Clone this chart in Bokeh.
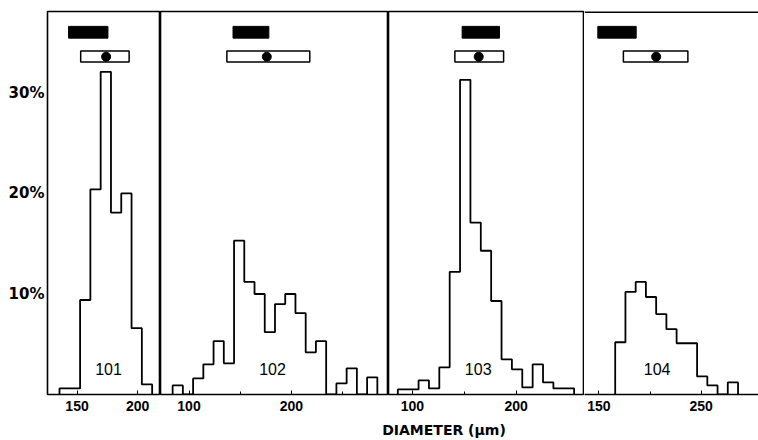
from bokeh.plotting import figure
from bokeh.models import Range1d, FixedTicker, PrintfTickFormatter, Label, Span
from bokeh.layouts import row, column
from bokeh.embed import file_html
from bokeh.resources import INLINE
from bokeh.core.properties import value

# ---------------- data ----------------
y_ticks = [10, 20, 30]

panel_names = ["101", "102", "103", "104"]

p101_edges = [135.5, 144, 152.5, 161, 169.5, 178, 186.5, 195, 203.5, 212]
p101_pct = [0.6, 0.6, 9.4, 20.4, 32.1, 18.1, 20.0, 6.6, 1.0]

p102_edges = [84, 94, 104, 114, 124, 134, 144, 154, 164, 174, 184, 194, 204,
              214, 224, 234, 244, 254, 264, 274, 284]
p102_pct = [0.9, 0, 1.6, 3.0, 5.3, 3.1, 15.3, 11.2, 10.0, 6.2, 9.0, 10.0, 8.1,
            4.2, 5.3, 0, 1.1, 2.6, 0, 1.7]

p103_edges = [86, 96, 106, 116, 126, 136, 146, 156, 166, 176, 186, 196, 206,
              216, 226, 236, 246, 256]
p103_pct = [0.5, 0.5, 1.4, 0.6, 2.7, 12.2, 31.3, 17.1, 14.3, 9.3, 3.5, 2.5, 0.7,
            3.0, 1.2, 0.6, 0.6]

p104_edges = [166, 176, 186, 196, 206, 216, 226, 236, 246, 256, 266, 276, 286]
p104_pct = [5.2, 10.2, 11.2, 9.7, 8.0, 6.5, 5.1, 5.1, 1.8, 0.9, 0, 1.2]

# range bars at the top of each panel (diameter units)
solid_left = [143, 143, 148, 149]
solid_right = [175.5, 178, 184, 186.5]
open_left = [153, 137, 141, 174]
open_right = [193, 218, 188, 237]
dot_x = [174, 176, 164, 206]

x_major = [[150, 200], [100, 200], [100, 200], [150, 250]]
x_minor = [[], [150, 250], [150], [200]]

# ---------------- layout / style ----------------
Y_END = 38.1
ranges = [(125.6, 218.9), (72.15, 294.9), (77.0, 266.0), (136.0, 306.0)]
widths = [160, 228, 196, 174]
left_borders = [47, 0, 0, 0]
name_x = [176, 181.6, 163.5, 207]
NAME_Y = 2.5
SOLID_BOT, SOLID_TOP = 35.45, 36.62
OPEN_BOT, OPEN_TOP = 33.07, 34.16
DOT_Y = 33.6
TOP_B, FRAME_H, BOT_B = 11, 383, 24
FIG_H = TOP_B + FRAME_H + BOT_B
LAB_H = 20

def step_path(edges, vals):
    xs = [edges[0]]
    ys = [0]
    for i, v in enumerate(vals):
        xs += [edges[i], edges[i + 1]]
        ys += [v, v]
    xs.append(edges[-1])
    ys.append(0)
    return xs, ys

hist = [(p101_edges, p101_pct), (p102_edges, p102_pct),
        (p103_edges, p103_pct), (p104_edges, p104_pct)]

figs = []
for i in range(4):
    p = figure(width=widths[i], height=FIG_H,
               x_range=Range1d(*ranges[i]), y_range=Range1d(0, Y_END),
               output_backend="svg", toolbar_location=None,
               min_border_left=left_borders[i], min_border_right=0,
               min_border_top=TOP_B, min_border_bottom=BOT_B,
               y_axis_location="left" if i == 0 else None,
               background_fill_color="white", border_fill_color="white")
    p.xgrid.grid_line_color = None
    p.ygrid.grid_line_color = None
    if i < 3:
        p.outline_line_color = "black"
        p.outline_line_width = 1.6
        p.outline_line_alpha = 1
    else:
        p.outline_line_color = None
        p.add_layout(Span(location=Y_END, dimension="width",
                          line_color="black", line_width=3))

    xa = p.xaxis[0]
    xa.ticker = FixedTicker(ticks=x_major[i], minor_ticks=x_minor[i])
    xa.major_tick_in = 4
    xa.major_tick_out = 0
    xa.minor_tick_in = 3
    xa.minor_tick_out = 0
    xa.major_tick_line_color = "black"
    xa.minor_tick_line_color = "black"
    xa.axis_line_color = "black" if i == 3 else None
    xa.axis_line_width = 1.6
    xa.major_label_standoff = 6
    xa.major_label_text_font = "Liberation Sans"
    xa.major_label_text_font_style = "bold"
    xa.major_label_text_font_size = "14px"
    xa.major_label_text_color = "black"

    if i == 0:
        ya = p.yaxis[0]
        ya.ticker = FixedTicker(ticks=y_ticks)
        ya.formatter = PrintfTickFormatter(format="%d%%")
        ya.major_tick_in = 0
        ya.major_tick_out = 0
        ya.minor_tick_line_color = None
        ya.axis_line_color = None
        ya.major_label_standoff = 3
        ya.major_label_text_font = "DejaVu Sans"
        ya.major_label_text_font_style = "bold"
        ya.major_label_text_font_size = "15px"
        ya.major_label_text_color = "black"

    xs, ys = step_path(*hist[i])
    p.line(xs, ys, line_color="black", line_width=1.8)

    p.quad(left=[solid_left[i]], right=[solid_right[i]],
           bottom=[SOLID_BOT], top=[SOLID_TOP],
           fill_color="black", line_color="black", line_width=1)
    p.quad(left=[open_left[i]], right=[open_right[i]],
           bottom=[OPEN_BOT], top=[OPEN_TOP],
           fill_color="white", line_color="black", line_width=1.5)
    p.scatter(x=[dot_x[i]], y=[DOT_Y], size=9, marker="circle",
              fill_color="black", line_color="black")

    p.text(x=[name_x[i]], y=[NAME_Y], text=[panel_names[i]],
           text_align="center", text_baseline="middle",
           text_font=value("Liberation Sans"), text_font_size="16px",
           text_color="black")
    figs.append(p)

lab = figure(width=758, height=LAB_H, x_range=Range1d(0, 758), y_range=Range1d(0, LAB_H),
             output_backend="svg", toolbar_location=None, min_border=0,
             x_axis_location=None, y_axis_location=None,
             background_fill_color="white", border_fill_color="white")
lab.outline_line_color = None
lab.xgrid.grid_line_color = None
lab.ygrid.grid_line_color = None
lab.add_layout(Label(x=443.5, y=LAB_H - 11, text="DIAMETER (µm)",
                     text_align="center", text_baseline="middle",
                     text_font="DejaVu Sans", text_font_style="bold",
                     text_font_size="14px", text_color="black"))

layout = column(row(*figs, spacing=0), lab, spacing=0)

open("out.html", "w").write(file_html(layout, INLINE))
